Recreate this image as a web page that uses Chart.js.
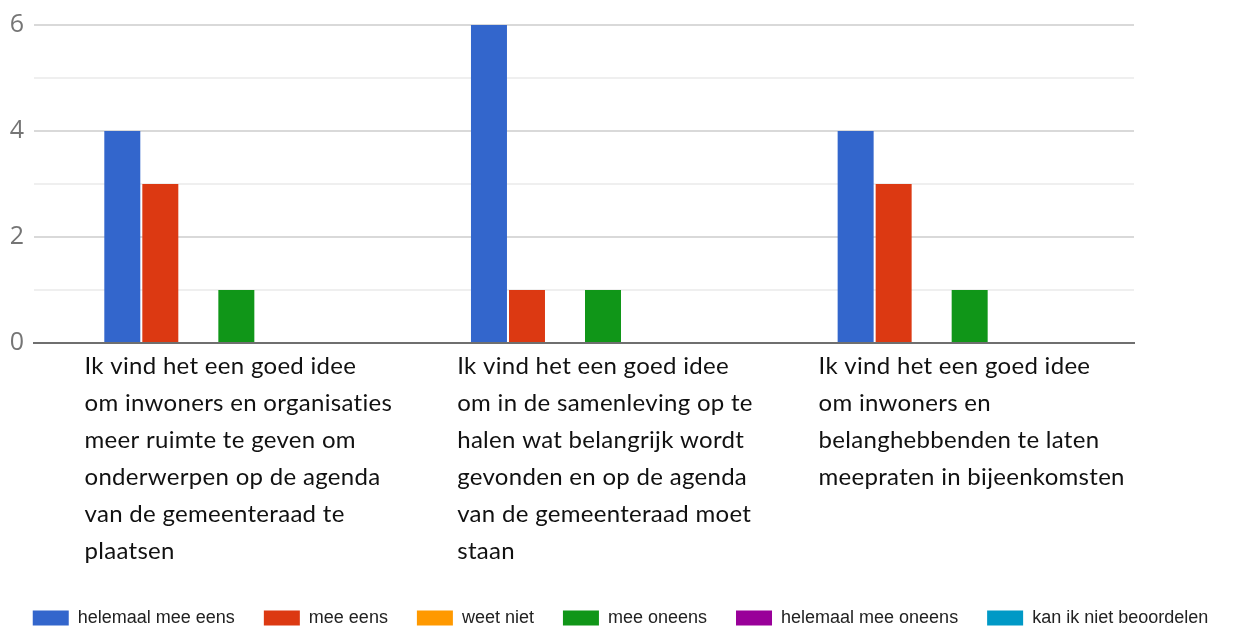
<!DOCTYPE html>
<html lang="nl">
<head>
  <meta charset="UTF-8" />
  <title>Stellingen</title>
  <script src="https://cdn.jsdelivr.net/npm/chart.js"></script>
  <style>
    body { margin: 0; background: #fff; }
  </style>
</head>
<body>
  <canvas id="chart" width="1241" height="630"></canvas>
  <script>
    // categories, each label split into its lines
    const categories = [
      ['Ik vind het een goed idee', 'om inwoners en organisaties', 'meer ruimte te geven om',
       'onderwerpen op de agenda', 'van de gemeenteraad te', 'plaatsen'],
      ['Ik vind het een goed idee', 'om in de samenleving op te', 'halen wat belangrijk wordt',
       'gevonden en op de agenda', 'van de gemeenteraad moet', 'staan'],
      ['Ik vind het een goed idee', 'om inwoners en', 'belanghebbenden te laten',
       'meepraten in bijeenkomsten']
    ];

    const seriesNames = ['helemaal mee eens', 'mee eens', 'weet niet', 'mee oneens',
                         'helemaal mee oneens', 'kan ik niet beoordelen'];
    const seriesColors = ['#3366cc', '#dc3912', '#ff9900', '#109618', '#990099', '#0099c6'];

    const helemaalMeeEens = [4, 6, 4];
    const meeEens = [3, 1, 3];
    const weetNiet = [0, 0, 0];
    const meeOneens = [1, 1, 1];
    const helemaalMeeOneens = [0, 0, 0];
    const kanIkNietBeoordelen = [0, 0, 0];

    const yMax = 6;
    const yLabelStep = 2;

    const seriesValues = [helemaalMeeEens, meeEens, weetNiet, meeOneens,
                          helemaalMeeOneens, kanIkNietBeoordelen];

    // category labels: left aligned blocks, roughly centred under each group
    const categoryLabels = {
      id: 'categoryLabels',
      afterDraw(chart) {
        const { ctx, scales: { x }, chartArea } = chart;
        ctx.save();
        ctx.font = '24px Lato';
        ctx.letterSpacing = '0.3px'; // also stops the "ti" ligature
        ctx.fillStyle = '#111';
        ctx.textAlign = 'left';
        ctx.textBaseline = 'middle';
        chart.data.labels.forEach((lines, i) => {
          const w = Math.max(...lines.map(l => ctx.measureText(l).width));
          const left = x.getPixelForValue(i) + 21 - w / 2;
          lines.forEach((line, k) => {
            ctx.fillText(line, left, chartArea.bottom + 23 + k * 37);
          });
        });
        ctx.restore();
      }
    };

    new Chart(document.getElementById('chart'), {
      type: 'bar',
      data: {
        labels: categories,
        datasets: seriesNames.map((name, i) => ({
          label: name,
          data: seriesValues[i],
          backgroundColor: seriesColors[i],
          borderWidth: 0,
          categoryPercentage: 0.622,
          barPercentage: 0.947
        }))
      },
      options: {
        responsive: false,
        animation: false,
        layout: { padding: { top: 22, bottom: -7, left: 0, right: 0 } },
        plugins: {
          tooltip: { enabled: false },
          legend: {
            position: 'bottom',
            labels: {
              boxWidth: 36,
              boxHeight: 15,
              padding: 29,
              color: '#222',
              font: { family: 'Liberation Sans', size: 18 }
            }
          }
        },
        scales: {
          x: {
            ticks: { display: false },
            grid: { display: false },
            border: { display: true, color: '#6f6f6f', width: 2 },
            afterFit: s => { s.height = 237; }
          },
          y: {
            min: 0,
            max: yMax,
            ticks: {
              stepSize: 1,
              padding: 10,
              color: '#757575',
              font: { family: 'Open Sans', size: 25 },
              callback: v => (v % yLabelStep === 0 ? v : '')
            },
            grid: {
              drawTicks: false,
              lineWidth: 2,
              color: c => (c.tick.value % yLabelStep === 0 ? '#d9d9d9' : '#efefef')
            },
            border: { display: false },
            afterFit: s => { s.width = 34; }
          },
          spacer: {
            position: 'right',
            display: true,
            ticks: { display: false },
            grid: { display: false, drawOnChartArea: false },
            border: { display: false },
            afterFit: s => { s.width = 107; }
          }
        }
      },
      plugins: [categoryLabels]
    });
  </script>
</body>
</html>
